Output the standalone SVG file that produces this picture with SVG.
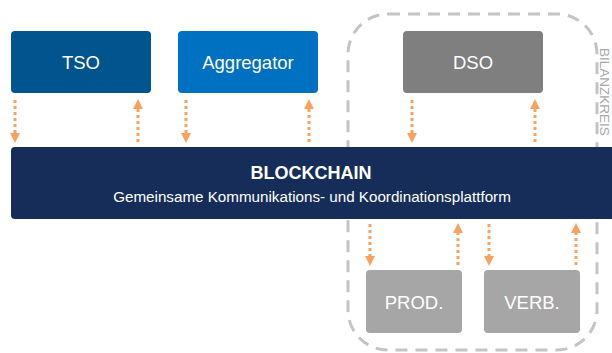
<svg xmlns="http://www.w3.org/2000/svg" width="612" height="353" viewBox="0 0 612 353">
<defs>
<style>
.lbl{font-family:"Liberation Sans",Arial,sans-serif;fill:#fff;text-anchor:middle;dominant-baseline:central}
.con{stroke:#F9A25E;stroke-width:3;stroke-dasharray:3 3;fill:none}
</style>
<marker id="ah" viewBox="0 0 10 10" refX="0" refY="5" markerWidth="10" markerHeight="10" markerUnits="userSpaceOnUse" orient="auto">
<path d="M0,0 L10,5 L0,10 Z" fill="#F9A25E"/>
</marker>
</defs>
<rect width="612" height="353" fill="#fff"/>
<g id="bilanzkreis">
<rect x="348" y="14" width="249" height="336" rx="40" fill="none" stroke="#C4C4C4" stroke-width="3" stroke-dasharray="12 8"/>
<text transform="translate(600,48) rotate(90)" font-family="'Liberation Sans',Arial,sans-serif" font-size="13.5" fill="#A8A8A8">BILANZKREIS</text>
</g>
<g id="tso"><rect x="11" y="31" width="140" height="62" rx="4" fill="#02548F"/><text class="lbl" x="81" y="62" font-size="18.5">TSO</text></g>
<g id="aggregator"><rect x="178" y="31" width="140" height="62" rx="4" fill="#0070C0"/><text class="lbl" x="248" y="62" font-size="18.5">Aggregator</text></g>
<g id="dso"><rect x="403" y="31" width="140" height="62" rx="4" fill="#7F7F7F"/><text class="lbl" x="473" y="62" font-size="18.5">DSO</text></g>
<g id="blockchain"><rect x="11" y="147" width="610" height="72" rx="4" fill="#172D59"/>
<text class="lbl" x="311" y="173" font-size="18" font-weight="bold">BLOCKCHAIN</text>
<text class="lbl" x="312" y="196" font-size="15.2">Gemeinsame Kommunikations- und Koordinationsplattform</text></g>
<g id="prod"><rect x="366" y="270" width="96" height="63" rx="4" fill="#A6A6A6"/><text class="lbl" x="414" y="302" font-size="18.5">PROD.</text></g>
<g id="verb"><rect x="484" y="270" width="96" height="63" rx="4" fill="#A6A6A6"/><text class="lbl" x="532" y="302" font-size="18.5">VERB.</text></g>
<g id="connectors">
<path class="con" d="M15,100 V133" marker-end="url(#ah)"/>
<path class="con" d="M138,142 V109" marker-end="url(#ah)"/>
<path class="con" d="M186,100 V133" marker-end="url(#ah)"/>
<path class="con" d="M309,142 V109" marker-end="url(#ah)"/>
<path class="con" d="M412,100 V133" marker-end="url(#ah)"/>
<path class="con" d="M535,142 V109" marker-end="url(#ah)"/>
<path class="con" d="M370,224 V256" marker-end="url(#ah)"/>
<path class="con" d="M458,265 V233" marker-end="url(#ah)"/>
<path class="con" d="M489,224 V256" marker-end="url(#ah)"/>
<path class="con" d="M576,265 V233" marker-end="url(#ah)"/>
</g>
</svg>
